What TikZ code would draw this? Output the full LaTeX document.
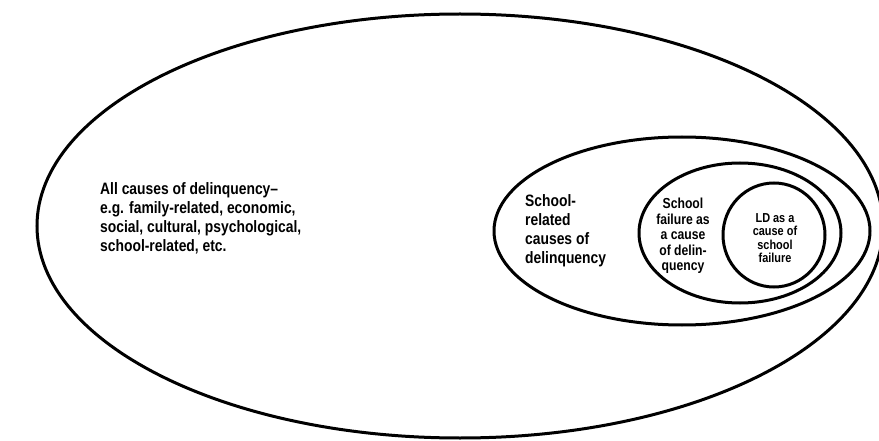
\documentclass[tikz,border=0pt]{standalone}
\usepackage{fontspec}
\newfontfamily\labelfont[FakeStretch=0.84]{Liberation Sans}

\begin{document}
\begin{tikzpicture}[x=1pt,y=-1pt,
  ring/.style={black, line width=3pt},
  lbl/.style={inner sep=0pt, font=\labelfont\bfseries\fontsize{16.5}{19}\selectfont},
  small/.style={inner sep=0pt, align=center, font=\labelfont\bfseries\fontsize{14.5}{15.5}\selectfont}]
\useasboundingbox (0,0) rectangle (879,441);
% nested sets, outer to inner
\draw [ring] (460,226) ellipse [x radius=423, y radius=212];
\draw [ring] (682,231) ellipse [x radius=188, y radius=94];
\draw [ring] (740,233) ellipse [x radius=101, y radius=70];
\draw [ring] (774,235) ellipse [x radius=51, y radius=52];
% labels
\node [lbl, anchor=west, align=left] (allcauses) at (100,218)
  {All causes of delinquency–\\e.g. family-related, economic,\\social, cultural, psychological,\\school-related, etc.};
\node [lbl, anchor=west, align=left] (schoolrel) at (525,231)
  {School-\\related\\causes of\\delinquency};
\node [small] (failure) at (683,236)
  {School\\failure as\\a cause\\of delin-\\quency};
\node [small, font=\labelfont\bfseries\fontsize{13}{13.5}\selectfont] (ld) at (775,238)
  {LD as a\\cause of\\school\\failure};
\end{tikzpicture}
\end{document}
